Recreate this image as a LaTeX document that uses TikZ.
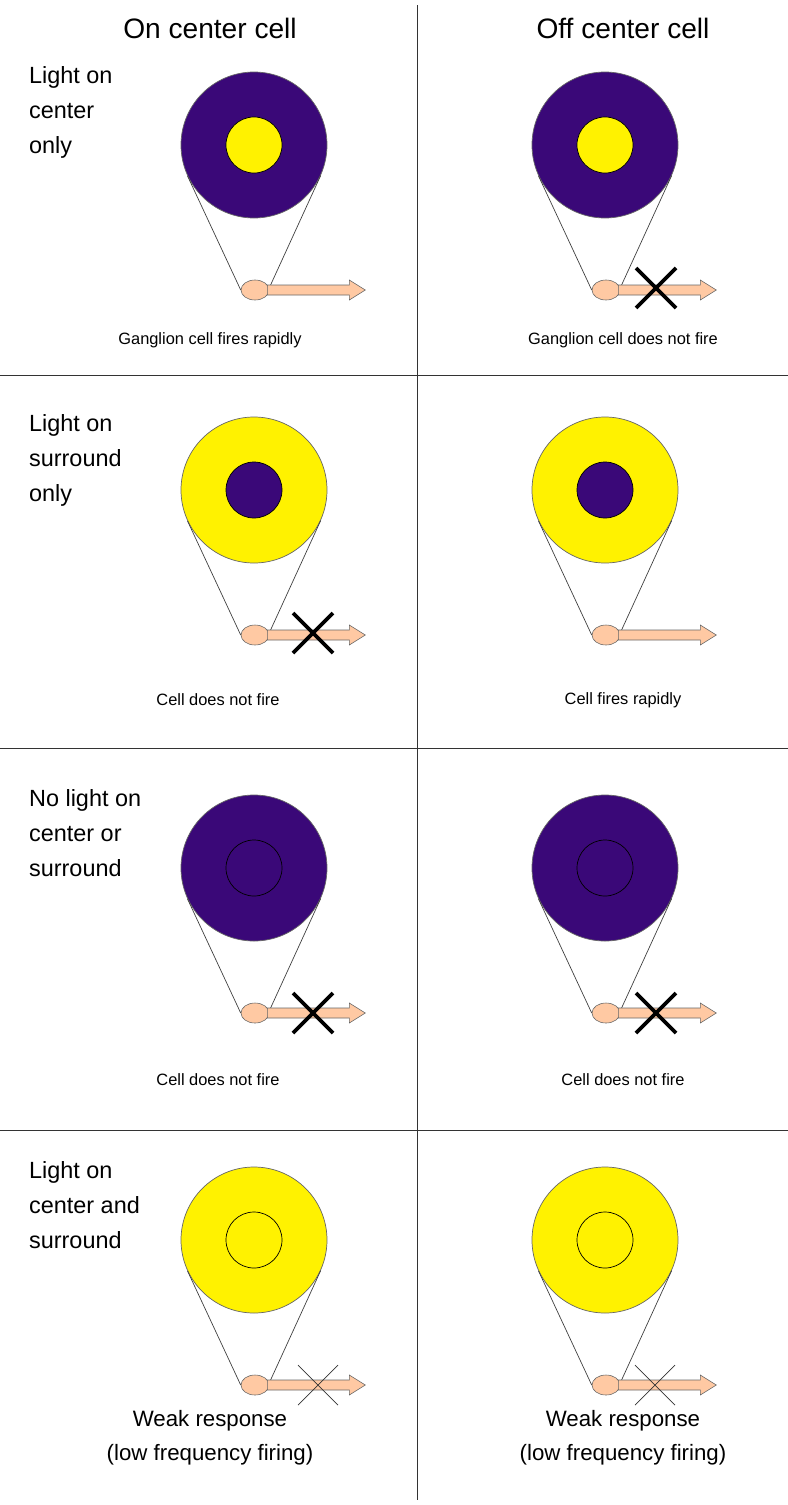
\documentclass[tikz,border=0pt]{standalone}
\usepackage{fontspec}
\setmainfont{Liberation Sans}
\usetikzlibrary{calc,shapes.geometric}
\definecolor{dpurple}{HTML}{3A0878}
\definecolor{peach}{HTML}{FFC9A3}
\tikzset{
  grid/.style={draw=black!80, line width=0.8pt},
  outer/.style={circle, draw=black!60, line width=0.6pt, minimum size=146*0.03cm, inner sep=0pt},
  innerc/.style={circle, draw=black, line width=0.6pt, minimum size=56*0.03cm, inner sep=0pt},
  soma/.style={ellipse, fill=peach, draw=black!60, line width=0.5pt, minimum width=28*0.03cm, minimum height=20*0.03cm, inner sep=0pt},
  axon/.style={fill=peach, draw=black!60, line width=0.5pt},
  conn/.style={draw=black!75, line width=0.6pt},
  xbig/.style={line width=3.2pt, black},
  xthin/.style={line width=0.6pt, black!80},
  hdr/.style={font=\fontsize{24}{28}\selectfont},
  side/.style={font=\fontsize{20}{30}\selectfont, align=left, anchor=north west},
  captxt/.style={font=\fontsize{14}{18}\selectfont},
  captxtb/.style={font=\fontsize{19}{29}\selectfont, align=center},
}
% #1 name, #2 x, #3 y (circle centre), #4 outer colour, #5 inner colour
\newcommand\rfcell[5]{%
  \node[outer, fill=#4] (#1o) at (#2,#3) {};
  \node[innerc, fill=#5] (#1i) at (#2,#3) {};
  \node[soma] (#1s) at ($(#2,#3)+(1,145)$) {};
  \coordinate (#1a) at ($(#1s.east)+(-1,0)$);
  \draw[conn] (#1s.west) -- (tangent cs:node=#1o,point={(#1s.west)},solution=2);
  \draw[conn] (#1a) -- (tangent cs:node=#1o,point={(#1a)},solution=1);
  \path[axon] ($(#1s.east)+(-2,-5)$) -- ++(82,0) -- ++(0,-5) -- ++(16,10) -- ++(-16,10) -- ++(0,-5) -- ++(-82,0) -- cycle;
}
\newcommand\rfx[4]{% name x y style
  \coordinate (#1) at (#2,#3);
  \draw[#4] ($(#1)+(-20,-20)$) -- ($(#1)+(20,20)$) ($(#1)+(-20,20)$) -- ($(#1)+(20,-20)$);
}
\begin{document}
\begin{tikzpicture}[x=0.03cm,y=-0.03cm]
\useasboundingbox (0,0) rectangle (788,1505);
\coordinate (vt) at (417,5); \coordinate (vb) at (417,1500);
\draw[grid] (vt) -- (vb);
\foreach \yy [count=\i] in {375,748,1130}{
  \coordinate (hl\i) at (0,\yy); \coordinate (hr\i) at (788,\yy);
  \draw[grid] (hl\i) -- (hr\i);
}
\node[hdr] (h1) at (210,28) {On center cell};
\node[hdr] (h2) at (623,28) {Off center cell};

\node[side] (s1) at (25,62) {Light on\\center\\only};
\node[side] (s2) at (25,410) {Light on\\surround\\only};
\node[side] (s3) at (25,785) {No light on\\center or\\surround};
\node[side] (s4) at (25,1157) {Light on\\center and\\surround};

\rfcell{a}{254}{145}{dpurple}{yellow}
\rfcell{b}{605}{145}{dpurple}{yellow}
\rfcell{c}{254}{490}{yellow}{dpurple}
\rfcell{d}{605}{490}{yellow}{dpurple}
\rfcell{e}{254}{868}{dpurple}{dpurple}
\rfcell{f}{605}{868}{dpurple}{dpurple}
\rfcell{g}{254}{1240}{yellow}{yellow}
\rfcell{h}{605}{1240}{yellow}{yellow}

\rfx{xb}{656}{288}{xbig}
\rfx{xc}{313}{633}{xbig}
\rfx{xe}{313}{1013}{xbig}
\rfx{xf}{656}{1013}{xbig}
\rfx{xg}{318}{1385}{xthin}
\rfx{xh}{655}{1385}{xthin}

\node[captxt] (c1) at (210,340) {Ganglion cell fires rapidly};
\node[captxt] (c2) at (623,340) {Ganglion cell does not fire};
\node[captxt] (c3) at (218,700) {Cell does not fire};
\node[captxt] (c4) at (623,700) {Cell fires rapidly};
\node[captxt] (c5) at (218,1080) {Cell does not fire};
\node[captxt] (c6) at (623,1080) {Cell does not fire};
\node[captxtb] (c7) at (210,1438) {Weak response\\(low frequency firing)};
\node[captxtb] (c8) at (623,1438) {Weak response\\(low frequency firing)};
\end{tikzpicture}
\end{document}
